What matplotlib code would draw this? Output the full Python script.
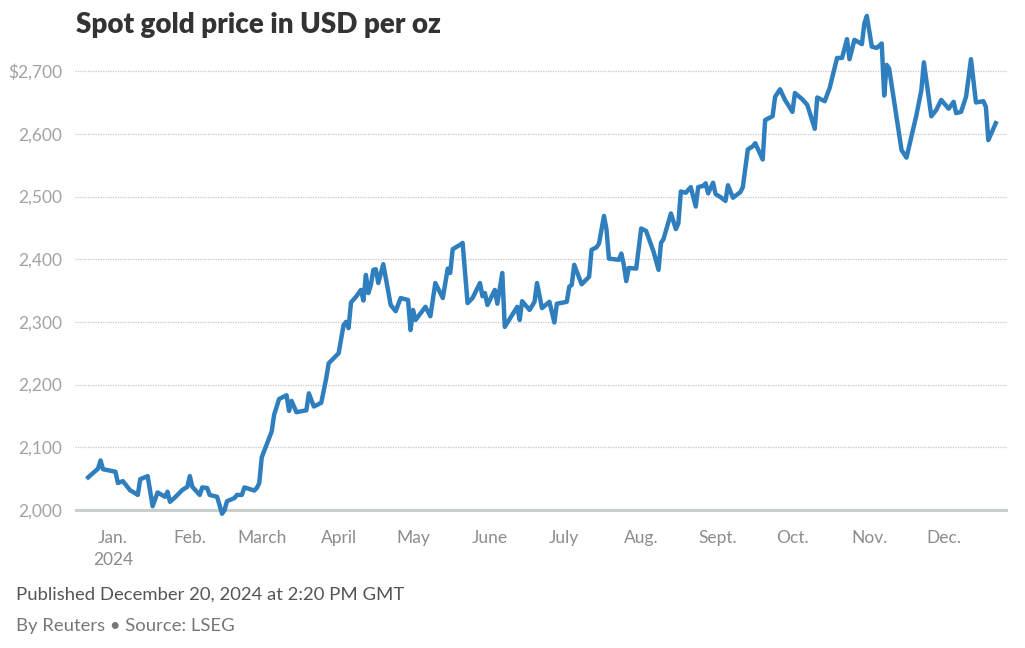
import matplotlib
matplotlib.use("Agg")
import matplotlib.pyplot as plt
import matplotlib.dates as mdates
import pandas as pd

# values
dates = [
    "2023-12-22", "2023-12-26", "2023-12-27", "2023-12-28", "2024-01-02", "2024-01-03",
    "2024-01-05", "2024-01-08", "2024-01-09", "2024-01-11", "2024-01-12", "2024-01-15",
    "2024-01-17", "2024-01-19", "2024-01-22", "2024-01-23", "2024-01-24", "2024-01-26",
    "2024-01-29", "2024-01-31", "2024-02-01", "2024-02-02", "2024-02-05", "2024-02-06",
    "2024-02-08", "2024-02-09", "2024-02-12", "2024-02-14", "2024-02-15", "2024-02-16",
    "2024-02-19", "2024-02-20", "2024-02-22", "2024-02-23", "2024-02-27", "2024-02-28",
    "2024-02-29", "2024-03-01", "2024-03-05", "2024-03-06", "2024-03-08", "2024-03-11",
    "2024-03-12", "2024-03-13", "2024-03-15", "2024-03-19", "2024-03-20", "2024-03-22",
    "2024-03-25", "2024-03-27", "2024-03-28", "2024-04-01", "2024-04-03", "2024-04-04",
    "2024-04-05", "2024-04-06", "2024-04-08", "2024-04-10", "2024-04-11", "2024-04-12",
    "2024-04-13", "2024-04-14", "2024-04-15", "2024-04-16", "2024-04-17", "2024-04-19",
    "2024-04-22", "2024-04-24", "2024-04-26", "2024-04-29", "2024-04-30", "2024-05-01",
    "2024-05-02", "2024-05-06", "2024-05-08", "2024-05-10", "2024-05-13", "2024-05-15",
    "2024-05-16", "2024-05-17", "2024-05-20", "2024-05-21", "2024-05-23", "2024-05-25",
    "2024-05-28", "2024-05-29", "2024-05-30", "2024-05-31", "2024-06-03", "2024-06-04",
    "2024-06-06", "2024-06-07", "2024-06-12", "2024-06-13", "2024-06-14", "2024-06-17",
    "2024-06-19", "2024-06-20", "2024-06-22", "2024-06-25", "2024-06-27", "2024-06-28",
    "2024-07-02", "2024-07-03", "2024-07-04", "2024-07-05", "2024-07-08", "2024-07-11",
    "2024-07-12", "2024-07-14", "2024-07-15", "2024-07-17", "2024-07-18", "2024-07-19",
    "2024-07-23", "2024-07-24", "2024-07-25", "2024-07-26", "2024-07-27", "2024-07-30",
    "2024-08-01", "2024-08-03", "2024-08-06", "2024-08-08", "2024-08-09", "2024-08-10",
    "2024-08-13", "2024-08-15", "2024-08-16", "2024-08-17", "2024-08-19", "2024-08-21",
    "2024-08-23", "2024-08-24", "2024-08-26", "2024-08-27", "2024-08-28", "2024-08-30",
    "2024-08-31", "2024-09-02", "2024-09-04", "2024-09-05", "2024-09-07", "2024-09-10",
    "2024-09-11", "2024-09-13", "2024-09-15", "2024-09-16", "2024-09-19", "2024-09-20",
    "2024-09-23", "2024-09-24", "2024-09-26", "2024-09-28", "2024-10-01", "2024-10-02",
    "2024-10-05", "2024-10-07", "2024-10-10", "2024-10-11", "2024-10-14", "2024-10-16",
    "2024-10-19", "2024-10-21", "2024-10-23", "2024-10-24", "2024-10-26", "2024-10-29",
    "2024-10-30", "2024-10-31", "2024-11-02", "2024-11-04", "2024-11-06", "2024-11-07",
    "2024-11-08", "2024-11-09", "2024-11-14", "2024-11-16", "2024-11-20", "2024-11-22",
    "2024-11-23", "2024-11-26", "2024-11-28", "2024-11-30", "2024-12-03", "2024-12-05",
    "2024-12-06", "2024-12-08", "2024-12-10", "2024-12-12", "2024-12-14", "2024-12-17",
    "2024-12-18", "2024-12-19", "2024-12-22",
]
prices = [
    2052, 2066, 2079, 2065, 2061, 2043,
    2046, 2031, 2029, 2024, 2049, 2054,
    2006, 2028, 2021, 2029, 2013, 2020,
    2032, 2037, 2054, 2037, 2024, 2036,
    2035, 2024, 2021, 1994, 2000, 2014,
    2019, 2024, 2024, 2036, 2031, 2035,
    2043, 2084, 2125, 2152, 2177, 2183,
    2158, 2174, 2156, 2159, 2186, 2165,
    2171, 2210, 2234, 2250, 2295, 2300,
    2290, 2331, 2340, 2351, 2334, 2375,
    2346, 2359, 2383, 2384, 2362, 2392,
    2327, 2317, 2338, 2335, 2287, 2319,
    2303, 2324, 2309, 2362, 2338, 2385,
    2378, 2416, 2423, 2426, 2330, 2338,
    2362, 2341, 2346, 2327, 2351, 2329,
    2378, 2292, 2324, 2303, 2333, 2319,
    2332, 2362, 2322, 2332, 2299, 2329,
    2332, 2356, 2359, 2391, 2360, 2372,
    2415, 2419, 2425, 2469, 2448, 2401,
    2399, 2409, 2391, 2365, 2386, 2385,
    2449, 2445, 2412, 2383, 2426, 2432,
    2473, 2448, 2457, 2508, 2506, 2515,
    2484, 2515, 2517, 2521, 2505, 2522,
    2504, 2499, 2493, 2518, 2498, 2507,
    2515, 2575, 2580, 2585, 2559, 2622,
    2628, 2659, 2671, 2654, 2635, 2665,
    2655, 2646, 2608, 2658, 2652, 2673,
    2721, 2721, 2751, 2719, 2750, 2743,
    2776, 2788, 2739, 2737, 2744, 2661,
    2710, 2704, 2574, 2562, 2630, 2670,
    2714, 2628, 2638, 2654, 2640, 2651,
    2633, 2635, 2659, 2719, 2650, 2652,
    2643, 2590, 2617,
]
y_ticks = [2000, 2100, 2200, 2300, 2400, 2500, 2600, 2700]
y_labels = ["2,000", "2,100", "2,200", "2,300", "2,400", "2,500", "2,600", "$2,700"]
month_starts = ["2024-01-01", "2024-02-01", "2024-03-01", "2024-04-01", "2024-05-01", "2024-06-01",
                "2024-07-01", "2024-08-01", "2024-09-01", "2024-10-01", "2024-11-01", "2024-12-01"]
month_labels = ["Jan.\n2024", "Feb.", "March", "April", "May", "June",
                "July", "Aug.", "Sept.", "Oct.", "Nov.", "Dec."]

plt.rcParams['font.family'] = ['Lato', 'DejaVu Sans']

x = pd.to_datetime(dates)
fig = plt.figure(figsize=(10.25, 6.48), dpi=100)
ax = fig.add_axes([0.0732, 0.1985, 0.9102, 0.7885])

for v in y_ticks[1:]:
    ax.axhline(v, color='#cdc3ca', lw=0.9, ls=(0, (1, 1)), zorder=1)
ax.axhline(y_ticks[0], color='#c9cfcb', lw=2.2, zorder=1)

ax.plot(x, prices, color='#2f7fbf', lw=3.2, solid_joinstyle='round', zorder=3)

ax.set_ylim(1985, 2800)
ax.set_xlim(pd.Timestamp("2023-12-16 17:00"), pd.Timestamp("2024-12-26 22:00"))
ax.set_yticks(y_ticks)
ax.set_yticklabels(y_labels)
ax.set_xticks(pd.to_datetime(month_starts))
ax.set_xticklabels(month_labels, linespacing=1.45)
ax.tick_params(axis='y', length=0, pad=9, labelsize=12.5, labelcolor='#a3a3a3')
ax.tick_params(axis='x', length=0, pad=8, labelsize=12.5, labelcolor='#8c8c8c')
for lbl in ax.get_xticklabels():
    lbl.set_verticalalignment('top')
for s in ax.spines.values():
    s.set_visible(False)

fig.text(0.074, 0.962, "Spot gold price in USD per oz", fontsize=20, fontweight='heavy',
         color='#333333', va='center', ha='left')
fig.text(0.0155, 0.082, "Published December 20, 2024 at 2:20 PM GMT", fontsize=13.3,
         color='#555555', va='center', ha='left')
fig.text(0.0155, 0.034, "By Reuters \u2022 Source: LSEG", fontsize=13.3,
         color='#777777', va='center', ha='left')

fig.savefig("out.png", dpi=100, facecolor='white')
